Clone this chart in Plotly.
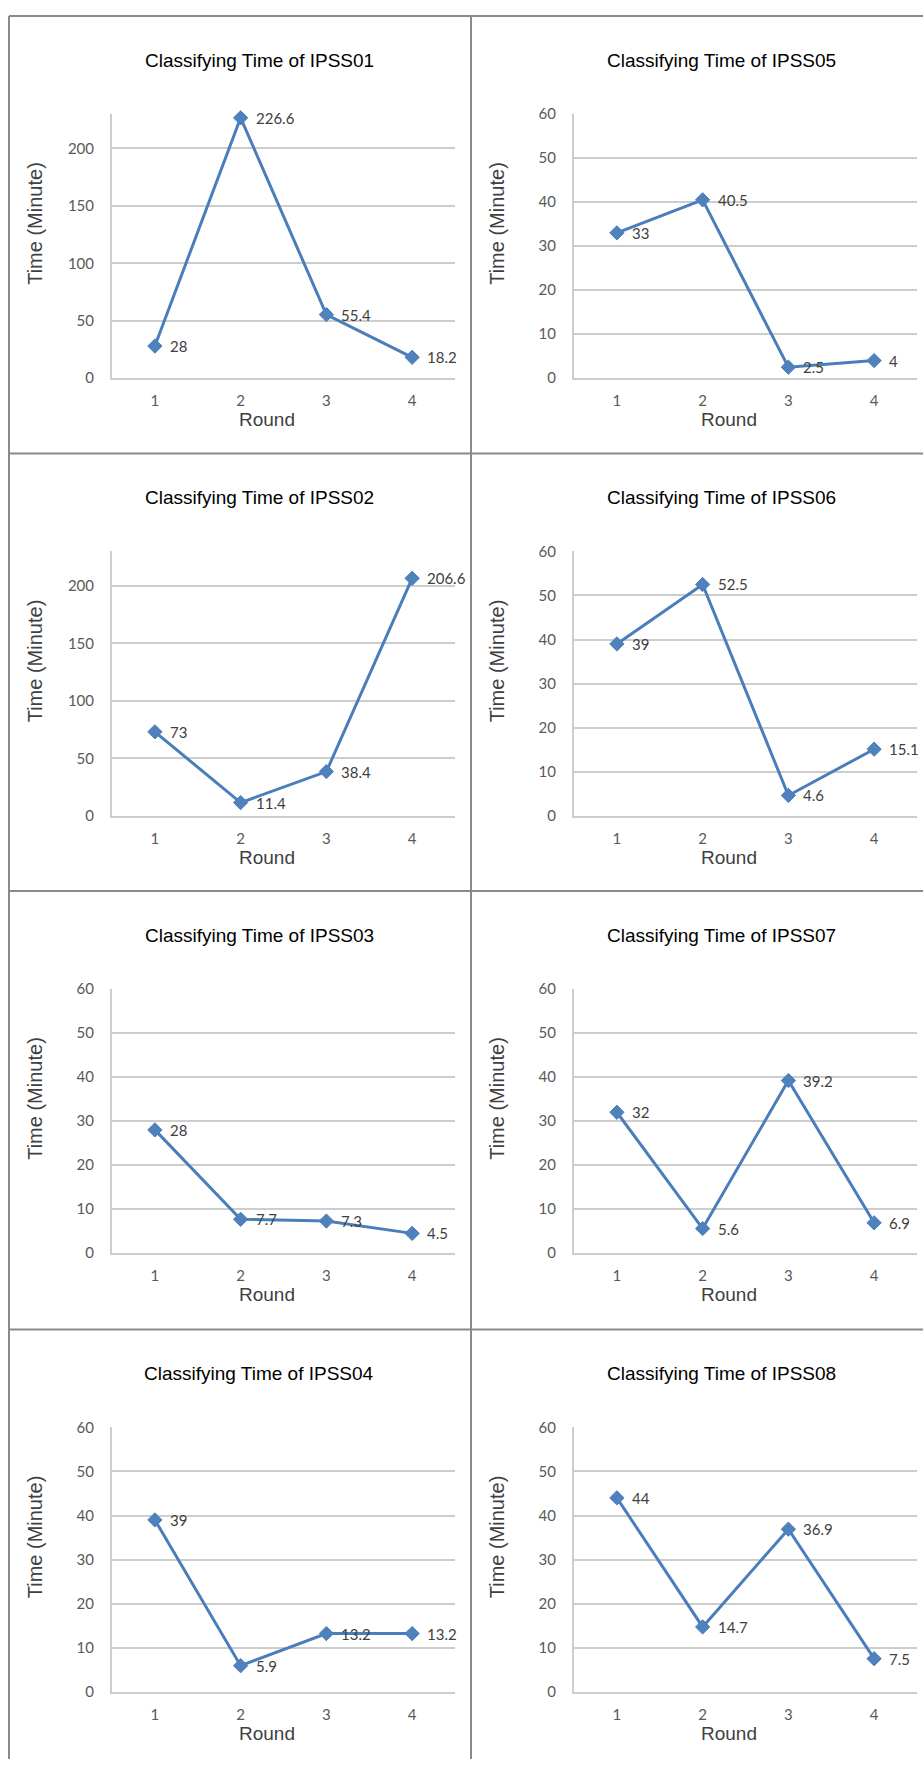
import plotly.graph_objects as go

# Round numbers on the x axis
rounds = [1, 2, 3, 4]

# Classifying time (minutes) per participant and round
ipss01 = [28, 226.6, 55.4, 18.2]
ipss02 = [73, 11.4, 38.4, 206.6]
ipss03 = [28, 7.7, 7.3, 4.5]
ipss04 = [39, 5.9, 13.2, 13.2]
ipss05 = [33, 40.5, 2.5, 4]
ipss06 = [39, 52.5, 4.6, 15.1]
ipss07 = [32, 5.6, 39.2, 6.9]
ipss08 = [44, 14.7, 36.9, 7.5]

names = ["IPSS01", "IPSS02", "IPSS03", "IPSS04",
         "IPSS05", "IPSS06", "IPSS07", "IPSS08"]
series = [ipss01, ipss02, ipss03, ipss04, ipss05, ipss06, ipss07, ipss08]
y_max = [230, 230, 60, 60, 60, 60, 60, 60]
y_step = [50, 50, 10, 10, 10, 10, 10, 10]

W, H = 923, 1767
ROW_TOP = [6, 448, 890, 1333]
COL_LEFT = [9, 471]
PLOT_X0 = 103      # plot area left, relative to panel border
PLOT_W = 343
PLOT_Y0 = 99       # plot area top, relative to panel border
PLOT_Y1 = 366

LINE = "#4A7EBB"
MARK = "#4F81BD"
GRID = "#CDCDCD"
BORDER = "#8A8A8A"
NUM_FONT = "Lato"
TXT_FONT = "Liberation Sans"


def px(x):
    return x / W


def py(y):
    return 1 - y / H


fig = go.Figure()
annotations = []
shapes = []
layout_axes = {}

for i, (name, vals) in enumerate(zip(names, series)):
    col, row = i // 4, i % 4
    n = i + 1
    left = COL_LEFT[col]
    top = ROW_TOP[row]
    x0 = left + PLOT_X0
    x1 = x0 + PLOT_W
    y0 = top + PLOT_Y0
    y1 = top + PLOT_Y1
    xa = "x" if n == 1 else f"x{n}"
    ya = "y" if n == 1 else f"y{n}"

    fig.add_trace(go.Scatter(
        x=rounds, y=vals, xaxis=xa, yaxis=ya,
        mode="lines+markers",
        line=dict(color=LINE, width=3),
        marker=dict(symbol="diamond", size=11, color=MARK,
                    line=dict(color=LINE, width=1)),
        cliponaxis=False,
        showlegend=False,
        hoverinfo="skip",
    ))

    # value labels to the right of each point
    for r, v in zip(rounds, vals):
        annotations.append(dict(
            x=r, y=v, xref=xa, yref=ya, text=f"{v:g}",
            showarrow=False, xanchor="left", yanchor="middle",
            xshift=13,
            font=dict(family=NUM_FONT, size=15, color="#404040"),
        ))

    layout_axes[f"xaxis{n if n > 1 else ''}"] = dict(
        domain=[px(x0), px(x1)], anchor=ya,
        range=[0.5, 4.5], tickvals=rounds, ticktext=[str(r) for r in rounds],
        showgrid=False, zeroline=False,
        showline=True, linecolor=GRID, linewidth=2,
        ticks="", ticklabelstandoff=8,
        tickfont=dict(family=NUM_FONT, size=15, color="#595959"),
        fixedrange=True,
    )
    layout_axes[f"yaxis{n if n > 1 else ''}"] = dict(
        domain=[py(y1), py(y0)], anchor=xa,
        range=[0, y_max[i]], dtick=y_step[i], tick0=0,
        showgrid=True, gridcolor=GRID, gridwidth=2,
        zeroline=False,
        showline=True, linecolor=GRID, linewidth=2,
        ticks="", ticklabelstandoff=13,
        tickfont=dict(family=NUM_FONT, size=15, color="#595959"),
        fixedrange=True,
    )

    # chart title
    annotations.append(dict(
        x=px(left + 250), y=py(top + 45), xref="paper", yref="paper",
        text=f"Classifying Time of {name}", showarrow=False,
        xanchor="center", yanchor="middle",
        font=dict(family=TXT_FONT, size=19, color="#000000"),
    ))
    # x axis title
    annotations.append(dict(
        x=px(left + 258), y=py(top + 408), xref="paper", yref="paper",
        text="Round", showarrow=False, xanchor="center", yanchor="middle",
        font=dict(family=TXT_FONT, size=19, color="#404040"),
    ))
    # y axis title
    annotations.append(dict(
        x=px(left + 26), y=py(top + 210), xref="paper", yref="paper",
        text="Time (Minute)", showarrow=False, textangle=-90,
        xanchor="center", yanchor="middle",
        font=dict(family=TXT_FONT, size=20, color="#404040"),
    ))

# panel frame lines
for t in ROW_TOP:
    shapes.append(dict(type="line", xref="paper", yref="paper",
                       x0=px(COL_LEFT[0]), x1=1, y0=py(t), y1=py(t),
                       line=dict(color=BORDER, width=2)))
for c in COL_LEFT:
    shapes.append(dict(type="line", xref="paper", yref="paper",
                       x0=px(c), x1=px(c), y0=py(ROW_TOP[0]), y1=0,
                       line=dict(color=BORDER, width=2)))

fig.update_layout(
    width=W, height=H,
    margin=dict(l=0, r=0, t=0, b=0),
    paper_bgcolor="white", plot_bgcolor="white",
    annotations=annotations, shapes=shapes,
    **layout_axes,
)

fig.write_html("out.html")
